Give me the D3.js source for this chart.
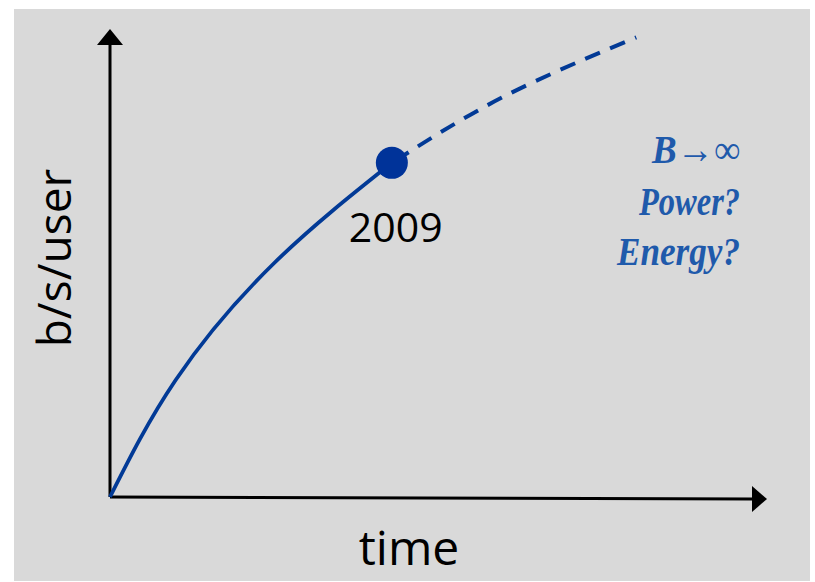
<!DOCTYPE html>
<html>
<head>
<meta charset="utf-8">
<script src="https://cdn.jsdelivr.net/npm/d3@7"></script>
<style>
  body { margin: 0; background: #fff; }
</style>
</head>
<body>
<svg id="chart" width="815" height="582"></svg>
<script>
// growth of bit rate per user over time (arbitrary units 0..100)
const pastTime = [0, 10, 25, 42.9];
const pastRate = [0, 25, 50, 71.4];
const futureTime = [42.9, 60, 80.1];
const futureRate = [71.4, 85.6, 98.2];
const markerTime = 42.9, markerRate = 71.4, markerLabel = "2009";
const xLabel = "time", yLabel = "b/s/user";
const notes = ["B\u2192\u221E", "Power?", "Energy?"];

const svg = d3.select("#chart");

// grey panel
svg.append("rect")
    .attr("x", 14).attr("y", 9)
    .attr("width", 796).attr("height", 572)
    .attr("fill", "#d9d9d9");

const x = d3.scaleLinear().domain([0, 100]).range([110, 767]);
const y = d3.scaleLinear().domain([0, 100]).range([497, 29]);

const axisColor = "#000";

// y axis with arrow head
svg.append("line")
    .attr("x1", x(0)).attr("y1", y(0))
    .attr("x2", x(0)).attr("y2", y(100) + 14)
    .attr("stroke", axisColor).attr("stroke-width", 3);
svg.append("path")
    .attr("d", `M${x(0)},${y(100)} L${x(0) - 13},${y(100) + 16} L${x(0) + 13},${y(100) + 16} Z`)
    .attr("fill", axisColor);

// x axis with arrow head
svg.append("line")
    .attr("x1", x(0)).attr("y1", y(0))
    .attr("x2", x(100) - 14).attr("y2", y(0) + 2)
    .attr("stroke", axisColor).attr("stroke-width", 3);
svg.append("path")
    .attr("d", `M${x(100)},${y(0) + 2} L${x(100) - 15},${y(0) - 11} L${x(100) - 15},${y(0) + 15} Z`)
    .attr("fill", axisColor);

const line = d3.line()
    .x(d => x(d[0]))
    .y(d => y(d[1]))
    .curve(d3.curveNatural);

const blue = "#023a96";

// solid history
svg.append("path")
    .datum(d3.zip(pastTime, pastRate))
    .attr("fill", "none")
    .attr("stroke", blue)
    .attr("stroke-width", 3.8)
    .attr("d", line);

// dashed projection
svg.append("path")
    .datum(d3.zip(futureTime, futureRate))
    .attr("fill", "none")
    .attr("stroke", blue)
    .attr("stroke-width", 4)
    .attr("stroke-dasharray", "16,11")
    .attr("stroke-dashoffset", -4)
    .attr("d", line);

// 2009 marker
svg.append("circle")
    .attr("cx", x(markerTime)).attr("cy", y(markerRate))
    .attr("r", 16)
    .attr("fill", "#003399");

svg.append("text")
    .attr("x", x(markerTime) - 43).attr("y", y(markerRate) + 79)
    .attr("font-family", "'Open Sans', sans-serif")
    .attr("font-size", 41)
    .attr("fill", "#000")
    .text(markerLabel);

// axis titles
svg.append("text")
    .attr("x", 409).attr("y", 565)
    .attr("text-anchor", "middle")
    .attr("font-family", "'Open Sans', sans-serif")
    .attr("font-size", 48)
    .attr("fill", "#000")
    .text(xLabel);

svg.append("text")
    .attr("transform", "translate(71,258) rotate(-90)")
    .attr("text-anchor", "middle")
    .attr("font-family", "'Open Sans', sans-serif")
    .attr("font-size", 46)
    .attr("fill", "#000")
    .text(yLabel);

// questions on the right
const noteY = [163, 215, 265];
const noteW = [88, 101, 123];
svg.append("g")
    .selectAll("text")
    .data(notes)
    .join("text")
    .attr("x", 740)
    .attr("y", (d, i) => noteY[i])
    .attr("text-anchor", "end")
    .attr("font-family", "'Liberation Serif', serif")
    .attr("font-style", "italic")
    .attr("font-weight", "bold")
    .attr("font-size", 40)
    .attr("textLength", (d, i) => noteW[i])
    .attr("lengthAdjust", "spacingAndGlyphs")
    .attr("fill", "#1f5aab")
    .text(d => d);
</script>
</body>
</html>
